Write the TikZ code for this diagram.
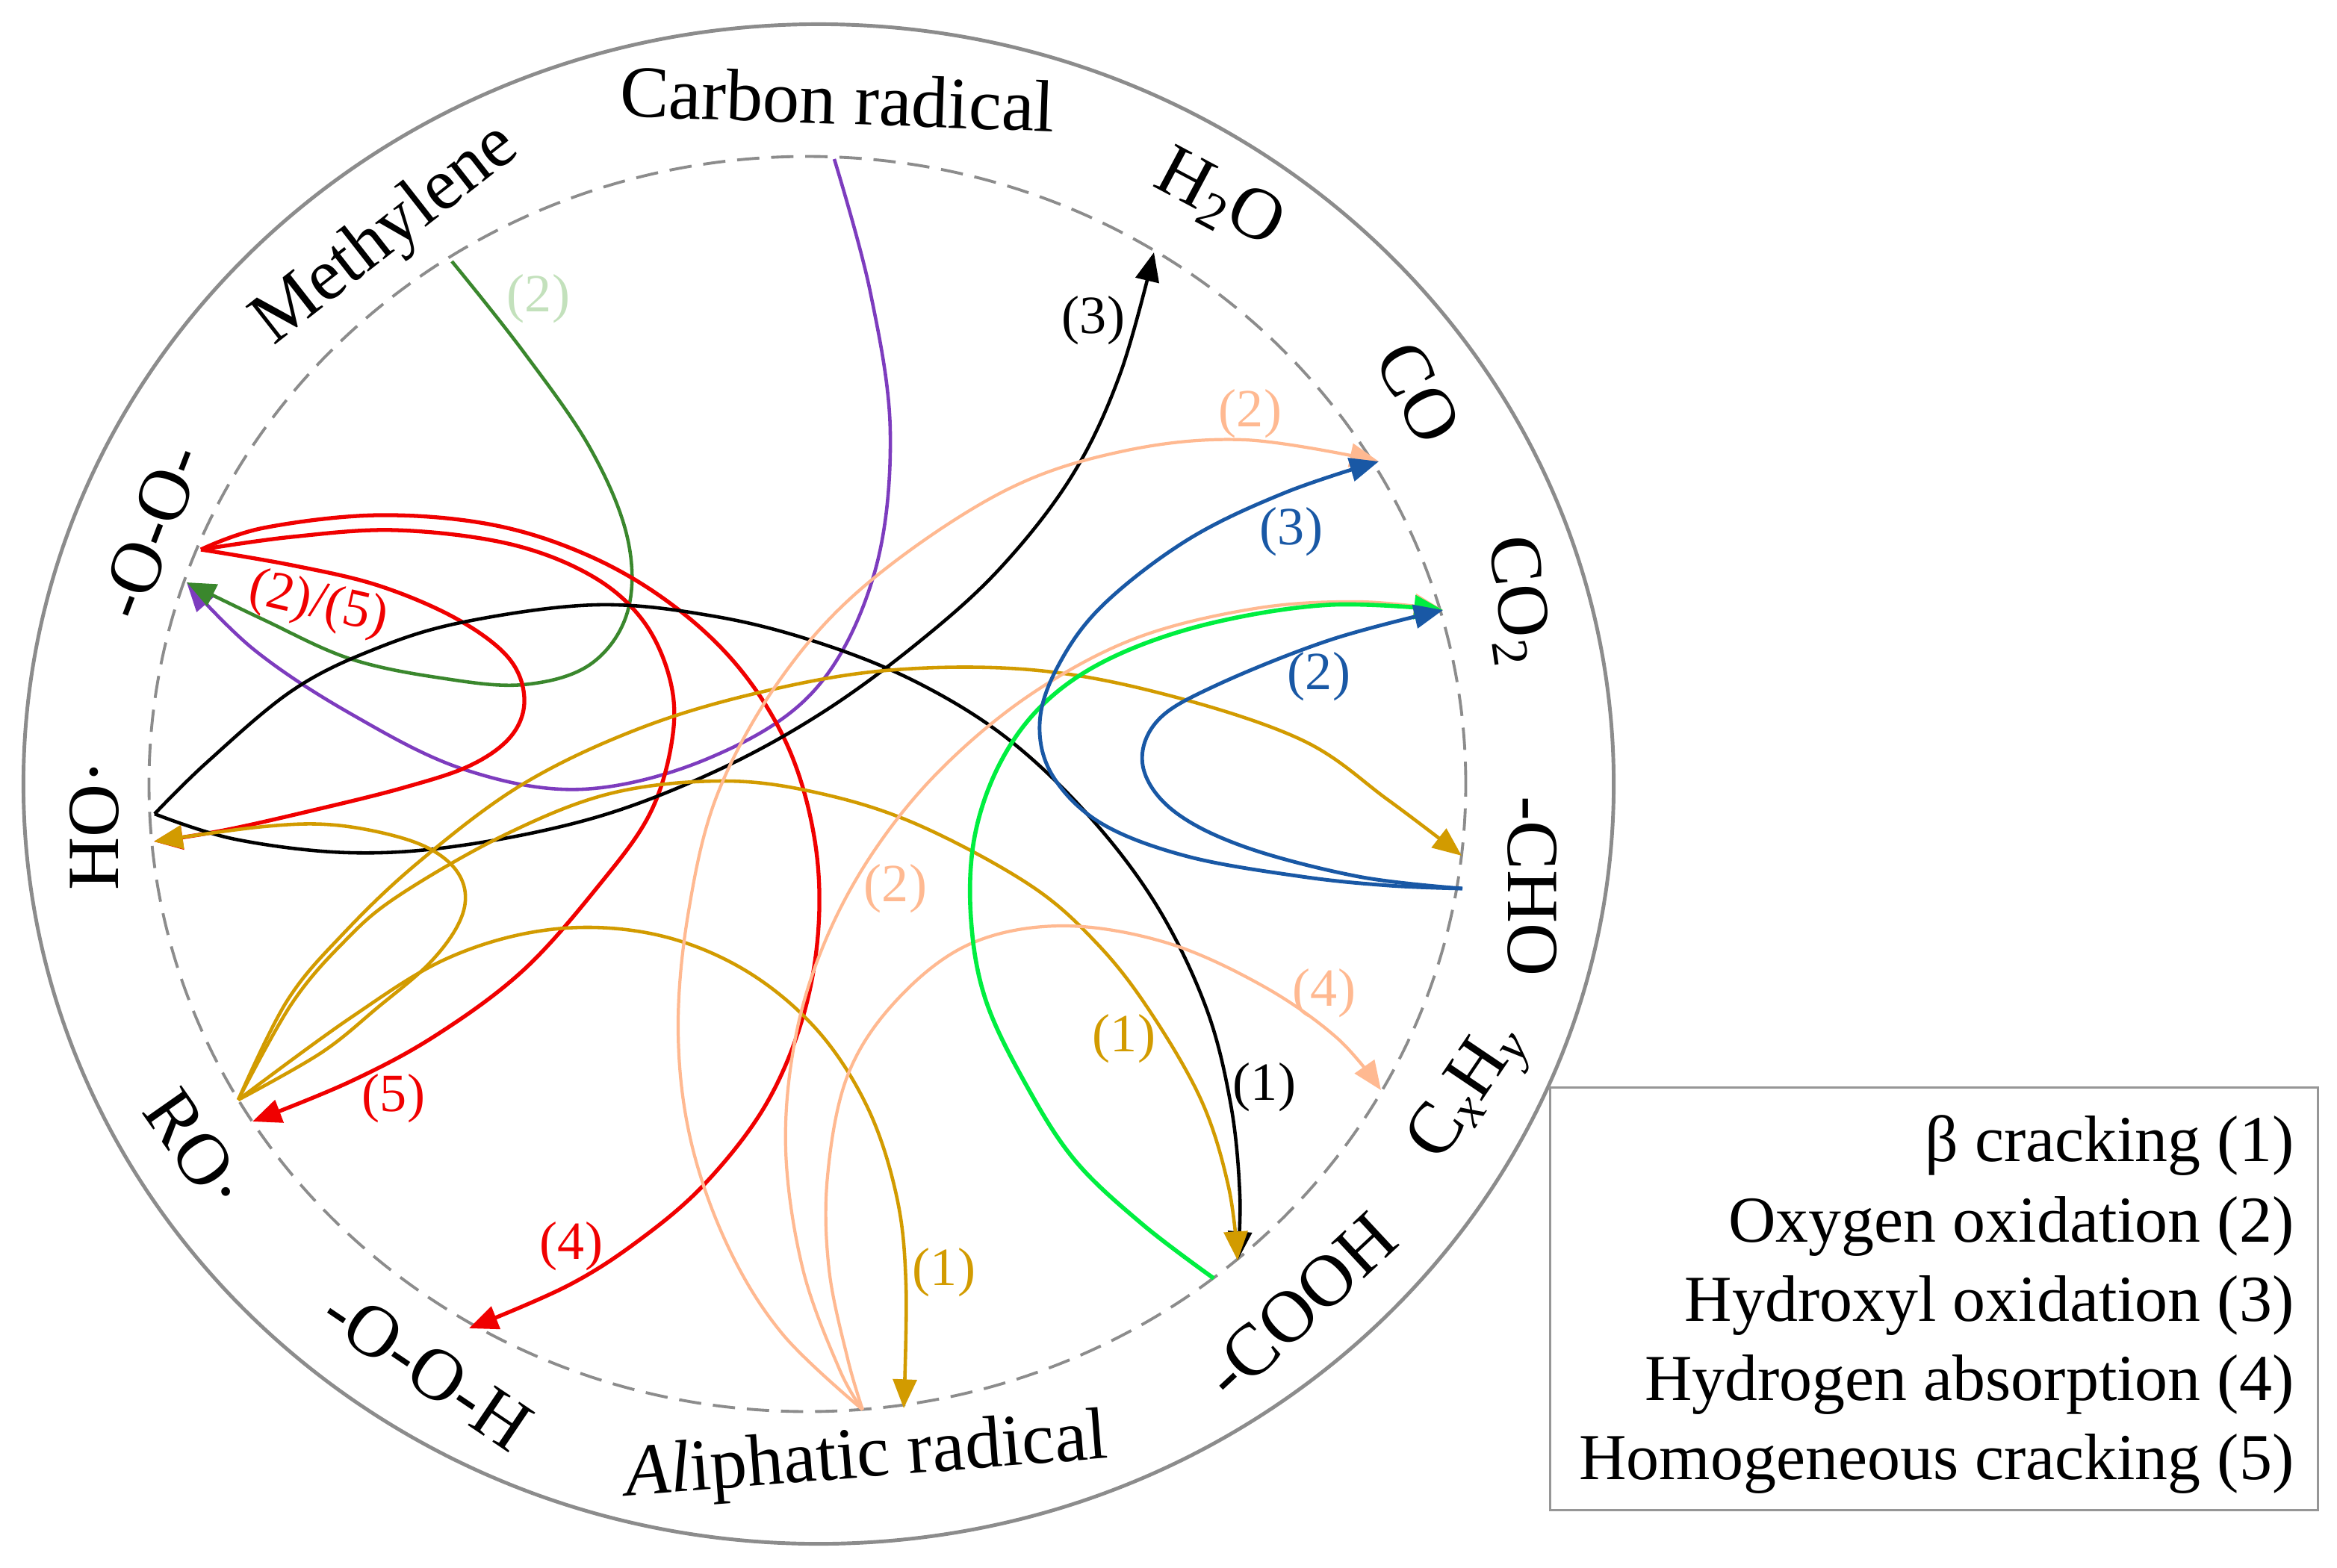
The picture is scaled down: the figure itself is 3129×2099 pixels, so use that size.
\documentclass[tikz,border=0pt]{standalone}
\usepackage{fontspec}
\setmainfont{Liberation Serif}
\usetikzlibrary{arrows.meta}
\definecolor{cpurple}{RGB}{125,60,190}
\definecolor{cdgreen}{RGB}{58,135,45}
\definecolor{cpgreen}{RGB}{195,225,188}
\definecolor{cred}{RGB}{240,0,0}
\definecolor{cgold}{RGB}{210,155,0}
\definecolor{cpeach}{RGB}{255,185,145}
\definecolor{cgreen}{RGB}{0,238,64}
\definecolor{cblue}{RGB}{25,88,165}
\definecolor{cgray}{RGB}{140,140,140}
\definecolor{cbox}{RGB}{150,150,150}
\newcommand\lblfont{\fontsize{28}{34}\selectfont}
\newcommand\numfont{\fontsize{20.5}{25}\selectfont}
\newcommand\legfont{\fontsize{25}{30}\selectfont}
\begin{document}
\begin{tikzpicture}[x=0.01cm,y=-0.01cm,
  conn/.style={line width=1.3pt},
  arr/.style={conn,-{Triangle[length=11pt,width=9pt]}},
  lbl/.style={font=\lblfont, inner sep=0pt},
  num/.style={font=\numfont, inner sep=0pt},
  leg/.style={font=\legfont, anchor=base east, inner sep=0pt},
  curve/.style={smooth, tension=0.6}]
\useasboundingbox (0,0) rectangle (3129,2099);
% circles
\draw[cgray, line width=1.4pt] (1096,1050) ellipse [x radius=10.64cm, y radius=10.17cm];
\draw[cgray, line width=1.1pt, dash pattern=on 8.5pt off 4.5pt] (1081,1050) ellipse [x radius=8.81cm, y radius=8.40cm];
% end points on the dashed circle
\coordinate (cr) at (1117,213);
\coordinate (me) at (605,350);
\coordinate (oo1) at (269,736);
\coordinate (oo2) at (250,780);
\coordinate (ho1) at (207,1090);
\coordinate (ho2) at (206,1127);
\coordinate (ro1) at (319,1473);
\coordinate (ro2) at (338,1502);
\coordinate (ooh) at (628,1779);
\coordinate (al1) at (1155,1888);
\coordinate (al2) at (1210,1886);
\coordinate (cooh1) at (1625,1712);
\coordinate (cooh2) at (1657,1688);
\coordinate (cxhy) at (1849,1460);
\coordinate (cho1) at (1958,1190);
\coordinate (cho2) at (1957,1146);
\coordinate (co2) at (1932,817);
\coordinate (co) at (1846,618);
\coordinate (h2o) at (1545,338);
% connectors
\draw[arr, cpurple] plot[curve] coordinates {(cr) (1165,390) (1192,580) (1170,770) (1090,925) (950,1015) (780,1057) (620,1030) (468,955) (340,870) (oo2)};
\draw[arr, cdgreen] plot[curve] coordinates {(me) (700,470) (790,600) (840,720) (840,820) (790,890) (700,917) (590,908) (468,882) (353,830) (oo2)};
\draw[arr, cred, line width=1.5pt] plot[curve] coordinates {(oo1) (391,757) (506,784) (610,828) (680,880) (702,935) (685,985) (630,1025) (540,1055) (420,1085) (300,1112) (ho2)};
\draw[arr, cred, line width=1.5pt] plot[curve] coordinates {(oo1) (391,719) (530,710) (680,728) (790,770) (860,830) (897,910) (900,990) (870,1090) (800,1188) (700,1300) (583,1387) (468,1449) (ro2)};
\draw[arr, cred, line width=1.5pt] plot[curve] coordinates {(oo1) (353,707) (506,690) (660,703) (790,745) (900,810) (990,895) (1055,1000) (1090,1120) (1096,1240) (1075,1362) (1025,1480) (945,1584) (857,1660) (760,1722) (ooh)};
\draw[arr, black] plot[curve] coordinates {(ho1) (315,1124) (468,1142) (620,1132) (800,1094) (960,1032) (1100,955) (1230,860) (1340,760) (1436,636) (1500,500) (h2o)};
\draw[arr, black] plot[curve] coordinates {(ho1) (277,1021) (391,925) (500,870) (621,833) (800,810) (960,826) (1100,862) (1230,915) (1350,990) (1460,1095) (1550,1215) (1615,1350) (1648,1480) (1660,1600) (cooh2)};
\draw[arr, cgold] plot[curve] coordinates {(ro1) (384,1341) (460,1250) (560,1155) (697,1052) (850,978) (1010,929) (1186,898) (1380,897) (1560,930) (1743,991) (1858,1071) (cho2)};
\draw[arr, cgold] plot[curve] coordinates {(ro1) (390,1345) (460,1262) (533,1200) (678,1117) (820,1062) (971,1046) (1100,1063) (1230,1105) (1380,1186) (1470,1265) (1540,1355) (1609,1475) (1645,1590) (cooh2)};
\draw[arr, cgold] plot[curve] coordinates {(ro1) (468,1364) (600,1283) (736,1245) (870,1250) (990,1295) (1090,1375) (1160,1480) (1200,1600) (1213,1720) (al2)};
\draw[arr, cgold] plot[curve] coordinates {(ro1) (430,1410) (506,1349) (575,1290) (615,1235) (622,1190) (598,1152) (544,1124) (449,1105) (353,1107) (ho2)};
\draw[arr, cpeach, line width=1.2pt] plot[curve] coordinates {(al1) (1048,1787) (975,1670) (925,1528) (908,1380) (922,1220) (962,1060) (1048,905) (1163,780) (1340,660) (1500,605) (1666,589) (co)};
\draw[arr, cpeach, line width=1.2pt] plot[curve] coordinates {(al1) (1124,1834) (1075,1700) (1052,1540) (1065,1390) (1105,1260) (1170,1140) (1260,1030) (1380,930) (1520,855) (1680,815) (1820,806) (co2)};
\draw[arr, cpeach, line width=1.2pt] plot[curve] coordinates {(al1) (1135,1820) (1110,1700) (1108,1575) (1135,1440) (1200,1340) (1297,1265) (1420,1240) (1560,1262) (1690,1320) (1790,1390) (cxhy)};
\draw[arr, cgreen, line width=1.6pt] plot[curve] coordinates {(cooh1) (1530,1640) (1440,1555) (1375,1455) (1320,1340) (1300,1230) (1305,1120) (1340,1020) (1400,940) (1490,880) (1620,835) (1780,810) (co2)};
\draw[arr, cblue, line width=1.4pt] plot[curve] coordinates {(cho1) (1860,1186) (1743,1174) (1590,1147) (1475,1103) (1410,1040) (1392,970) (1415,895) (1475,812) (1590,723) (1720,660) (co)};
\draw[arr, cblue, line width=1.4pt] plot[curve] coordinates {(cho1) (1819,1174) (1666,1134) (1570,1085) (1530,1025) (1550,965) (1628,918) (1781,857) (co2)};
% connector labels
\node[num, text=cpgreen] (n1) at (721,400) {(2)};
\node[num, text=cred, rotate=-13] (n2) at (426,810) {(2)/(5)};
\node[num, text=black] (n3) at (1464,429) {(3)};
\node[num, text=cpeach] (n4) at (1674,554) {(2)};
\node[num, text=cblue] (n5) at (1729,712) {(3)};
\node[num, text=cblue] (n6) at (1766,906) {(2)};
\node[num, text=cpeach] (n7) at (1199,1190) {(2)};
\node[num, text=cgold] (n8) at (1505,1391) {(1)};
\node[num, text=black] (n9) at (1693,1456) {(1)};
\node[num, text=cpeach] (n10) at (1773,1330) {(4)};
\node[num, text=cgold] (n11) at (1264,1704) {(1)};
\node[num, text=cred] (n12) at (765,1669) {(4)};
\node[num, text=cred] (n13) at (527,1471) {(5)};
% species labels
\node[lbl, anchor=base, rotate=-2] (lcr) at (1120,166) {Carbon radical};
\node[lbl, anchor=base, rotate=38] (lme) at (532,334) {Methylene};
\node[lbl, anchor=base, rotate=4.5] (lal) at (1162,1978) {\textit{Al}iphatic radical};
\node[lbl, rotate=-28] (lh2o) at (1632,268) {H\textsubscript{2}O};
\node[lbl, rotate=-62] (lco) at (1899,526) {CO};
\node[lbl, rotate=-82] (lco2) at (2030,805) {CO\textsubscript{2}};
\node[lbl, rotate=-90] (lcho) at (2052,1187) {-CHO};
\node[lbl, rotate=56] (lcxhy) at (1969,1465) {C\textsubscript{\textit{x}}H\textsubscript{\textit{y}}};
\node[lbl, rotate=43] (lcooh) at (1741,1749) {-COOH};
\node[lbl, rotate=-34] (looh) at (572,1833) {-O-O-H};
\node[lbl, rotate=-55] (lro) at (263,1540) {RO·};
\node[lbl, rotate=90] (lho) at (126,1105) {HO·};
\node[lbl, rotate=69] (loo) at (202,712) {-O-O-};
% legend
\node[draw=cbox, line width=0.9pt, minimum width=10.27cm, minimum height=5.65cm, inner sep=0pt] (legbox) at (2589.5,1739.5) {};
\node[leg] (leg1) at (3072,1555) {β cracking (1)};
\node[leg] (leg2) at (3072,1663) {Oxygen oxidation (2)};
\node[leg] (leg3) at (3072,1769) {Hydroxyl oxidation (3)};
\node[leg] (leg4) at (3072,1875) {Hydrogen absorption (4)};
\node[leg] (leg5) at (3072,1981) {Homogeneous cracking (5)};
\end{tikzpicture}
\end{document}
